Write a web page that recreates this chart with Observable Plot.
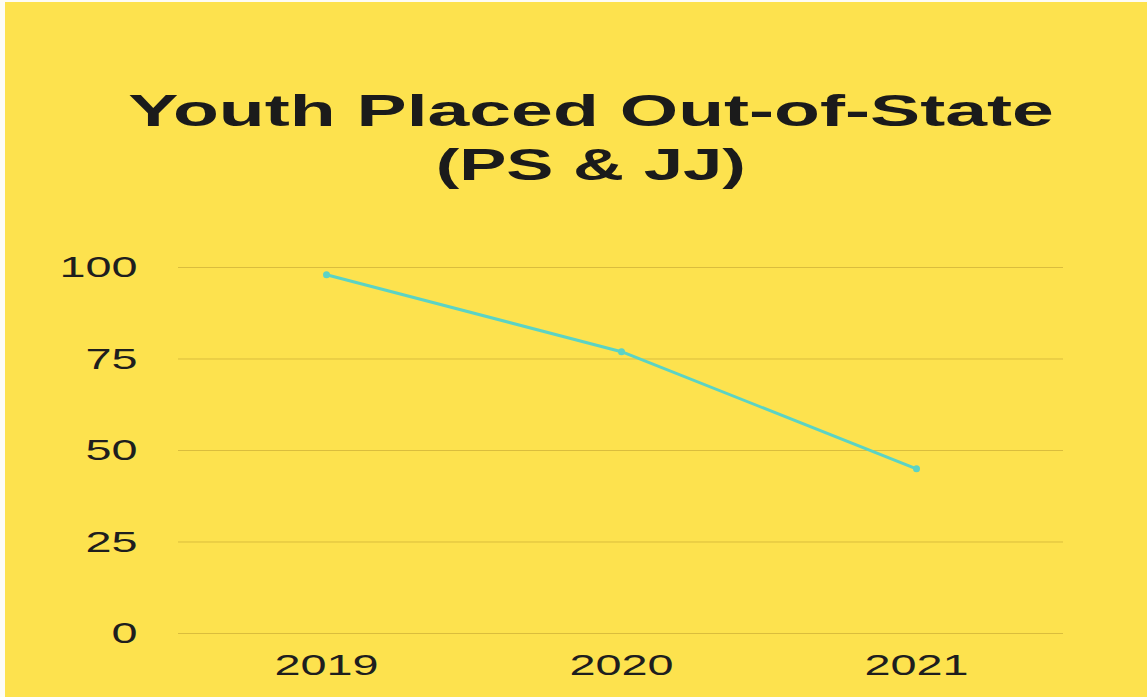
<!DOCTYPE html>
<html>
<head>
<meta charset="utf-8">
<script src="https://cdn.jsdelivr.net/npm/d3@7"></script>
<script src="https://cdn.jsdelivr.net/npm/@observablehq/plot@0.6"></script>
<style>
  html, body { margin: 0; padding: 0; background: #fdfcf5; }
  #frame { position: absolute; left: 5px; top: 2px; width: 1142px; height: 695px; background: #FDE24E; overflow: hidden; }
  #title { position: absolute; left: 15px; top: 0; width: 1142px; height: 208px; text-align: center;
    font-family: "Liberation Sans", Arial, sans-serif; font-weight: bold; font-size: 45px; line-height: 54px;
    color: #1b1b1b; padding-top: 82px; box-sizing: border-box; }
  #title div span { display: inline-block; transform-origin: 50% 50%; white-space: pre; }
  #chart { position: absolute; left: 0; top: 208px; }
</style>
</head>
<body>
<div id="frame">
  <div id="title">
    <div><span style="transform: scaleX(1.67)">Youth Placed Out-of-State</span></div>
    <div><span style="transform: scaleX(1.57)">(PS &amp; JJ)</span></div>
  </div>
  <div id="chart"></div>
</div>
<script>
const years = ["2019", "2020", "2021"];
const values = [98, 77, 45];
const yTicks = [0, 25, 50, 75, 100];

const data = years.map((year, i) => ({year, value: values[i]}));

const plot = Plot.plot({
  width: 1142,
  height: 487,
  marginLeft: 173,
  marginRight: 84,
  marginTop: 57,
  marginBottom: 64,
  style: {background: "transparent", fontFamily: "Liberation Sans, Arial, sans-serif", color: "#222"},
  x: {type: "point", domain: years, padding: 0.5, label: null},
  y: {domain: [0, 100], ticks: yTicks, label: null},
  marks: [
    Plot.gridY(yTicks, {stroke: "#d6b93c", strokeOpacity: 0.9, strokeWidth: 1}),
    Plot.axisY(yTicks, {tickSize: 0, tickPadding: 41, fontSize: 30, fill: "#1e1e1e", label: null}),
    Plot.axisX(years, {tickSize: 0, tickPadding: 20, fontSize: 30, fill: "#1e1e1e", label: null}),
    Plot.line(data, {x: "year", y: "value", stroke: "#5CD3C4", strokeWidth: 3}),
    Plot.dot(data, {x: "year", y: "value", fill: "#5CD3C4", r: 3.5})
  ]
});
document.getElementById("chart").appendChild(plot);

// The reference's lettering is horizontally stretched; widen the tick labels to match.
d3.select(plot).selectAll('g[aria-label="y-axis tick label"] text, g[aria-label="x-axis tick label"] text')
  .each(function () {
    const w = this.getComputedTextLength();
    this.setAttribute("textLength", w * 1.56);
    this.setAttribute("lengthAdjust", "spacingAndGlyphs");
  });
</script>
</body>
</html>
